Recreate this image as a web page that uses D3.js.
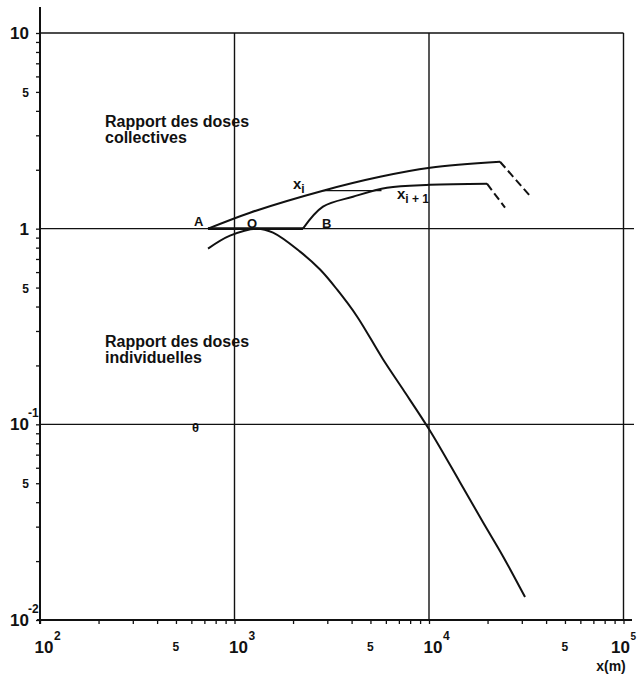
<!DOCTYPE html>
<html>
<head>
<meta charset="utf-8">
<script src="https://cdn.jsdelivr.net/npm/d3@7"></script>
<style>
  body { margin: 0; background: #fff; }
  text { font-family: "Liberation Sans", Arial, sans-serif; fill: #111; }
</style>
</head>
<body>
<div id="chart"></div>
<script>
// values (x in m, y = dose ratio)
const xDecades = [100, 1000, 10000, 100000];
const xDecadeExp = ["2", "3", "4", "5"];
const yDecades = [0.01, 0.1, 1, 10];
const yDecadeLabels = [["10", "-2"], ["10", "-1"], ["1", ""], ["10", ""]];
const fiveLabel = "5";

// rapport des doses collectives, curve x_i
const curveXi = [[731, 1.0], [1202, 1.207], [2851, 1.563], [5598, 1.841], [10120, 2.047], [23180, 2.197]];
const curveXiTail = [[23180, 2.197], [33040, 1.473]];
// curve x_i+1
const curveXi1 = [[2249, 1.0], [2851, 1.295], [4066, 1.456], [6080, 1.619], [10120, 1.676], [19870, 1.697]];
const curveXi1Tail = [[19870, 1.697], [24600, 1.28]];
// link between the two curves, and segment A-B
const linkXi = [[2851, 1.563], [5700, 1.563]];
const segmentAB = [[731, 1.0], [2249, 1.0]];

// rapport des doses individuelles
const curveIndiv = [[731, 0.791], [948, 0.921], [1306, 1.0], [1578, 0.954], [2173, 0.763], [2754, 0.618],
  [3365, 0.489], [4266, 0.356], [5800, 0.215], [7345, 0.151], [10100, 0.093], [14430, 0.0506],
  [18950, 0.0316], [23990, 0.0212], [31170, 0.0131]];

const width = 641, height = 676;

const x = d3.scaleLog().domain([100, 100000]).range([40, 623.5]);
const y = d3.scaleLog().domain([0.01, 10]).range([620, 33]);

const svg = d3.select("#chart").append("svg")
  .attr("width", width)
  .attr("height", height);

const ink = "#111";

// grid lines
svg.selectAll("line.vgrid")
  .data(xDecades.slice(1))
  .enter().append("line")
  .attr("x1", d => x(d)).attr("x2", d => x(d))
  .attr("y1", y(10)).attr("y2", y(0.01))
  .attr("stroke", ink).attr("stroke-width", 1.4);

svg.selectAll("line.hgrid")
  .data(yDecades.slice(1))
  .enter().append("line")
  .attr("x1", x(100)).attr("x2", d => d === 10 ? x(100000) : 634)
  .attr("y1", d => y(d)).attr("y2", d => y(d))
  .attr("stroke", ink).attr("stroke-width", 1.4);

// minor ticks
const minorX = [];
for (let e = 2; e < 5; e++) for (let m = 1; m < 10; m++) minorX.push(m * Math.pow(10, e));
minorX.push(100000);
const minorY = [];
for (let e = -2; e < 1; e++) for (let m = 1; m < 10; m++) minorY.push(m * Math.pow(10, e));
minorY.push(10);

const xAxis = svg.append("g")
  .attr("transform", `translate(0,${y(0.01)})`)
  .call(d3.axisBottom(x).tickValues(minorX).tickFormat("").tickSize(4).tickSizeOuter(0));
xAxis.select(".domain").attr("d", `M37,0H632`).attr("stroke", ink).attr("stroke-width", 2);
xAxis.selectAll(".tick line").attr("stroke", ink).attr("stroke-width", 1.3);

const yAxis = svg.append("g")
  .attr("transform", `translate(${x(100)},0)`)
  .call(d3.axisLeft(y).tickValues(minorY).tickFormat("").tickSize(4).tickSizeOuter(0));
yAxis.select(".domain").attr("d", `M0,7V624`).attr("stroke", ink).attr("stroke-width", 2);
yAxis.selectAll(".tick line").attr("stroke", ink).attr("stroke-width", 1.3);

// y tick labels
yDecades.forEach((d, i) => {
  const [base, exp] = yDecadeLabels[i];
  svg.append("text")
    .attr("x", 29).attr("y", y(d) + 6)
    .attr("text-anchor", "end")
    .attr("font-size", 17).attr("font-weight", "bold")
    .text(base);
  if (exp) {
    svg.append("text")
      .attr("x", 28).attr("y", y(d) - 7)
      .attr("font-size", 12).attr("font-weight", "bold")
      .text(exp);
  }
});
[0.05, 0.5, 5].forEach(d => {
  svg.append("text")
    .attr("x", 29).attr("y", y(d) + 5)
    .attr("text-anchor", "end")
    .attr("font-size", 12).attr("font-weight", "bold")
    .text(fiveLabel);
});

// x tick labels (the last one sits against the page edge)
xDecades.forEach((d, i) => {
  const last = i === xDecades.length - 1;
  svg.append("text")
    .attr("x", x(d) + (last ? -3 : 4)).attr("y", 653)
    .attr("text-anchor", "middle")
    .attr("font-size", 17).attr("font-weight", "bold")
    .text("10");
  svg.append("text")
    .attr("x", x(d) + (last ? 7 : 14)).attr("y", 640)
    .attr("font-size", last ? 10 : 12).attr("font-weight", "bold")
    .text(xDecadeExp[i]);
});
[500, 5000, 50000].forEach(d => {
  svg.append("text")
    .attr("x", x(d)).attr("y", 651)
    .attr("text-anchor", "middle")
    .attr("font-size", 12).attr("font-weight", "bold")
    .text(fiveLabel);
});
svg.append("text")
  .attr("x", 611).attr("y", 671)
  .attr("text-anchor", "middle")
  .attr("font-size", 14).attr("font-weight", "bold")
  .text("x(m)");

// curves
const smooth = d3.line().x(d => x(d[0])).y(d => y(d[1])).curve(d3.curveCatmullRom.alpha(0.5));
const straight = d3.line().x(d => x(d[0])).y(d => y(d[1]));

svg.append("path").attr("d", smooth(curveXi))
  .attr("fill", "none").attr("stroke", ink).attr("stroke-width", 2);
svg.append("path").attr("d", straight(curveXiTail))
  .attr("fill", "none").attr("stroke", ink).attr("stroke-width", 2).attr("stroke-dasharray", "8,4");
svg.append("path").attr("d", smooth(curveXi1))
  .attr("fill", "none").attr("stroke", ink).attr("stroke-width", 2);
svg.append("path").attr("d", straight(curveXi1Tail))
  .attr("fill", "none").attr("stroke", ink).attr("stroke-width", 2).attr("stroke-dasharray", "8,4");
svg.append("path").attr("d", straight(linkXi))
  .attr("fill", "none").attr("stroke", ink).attr("stroke-width", 1.3);
svg.append("path").attr("d", straight(segmentAB))
  .attr("fill", "none").attr("stroke", ink).attr("stroke-width", 2.6);
svg.append("path").attr("d", smooth(curveIndiv))
  .attr("fill", "none").attr("stroke", ink).attr("stroke-width", 2);

// annotations
function label(tx, ty, str, size) {
  return svg.append("text").attr("x", tx).attr("y", ty)
    .attr("font-size", size).attr("font-weight", "bold").text(str);
}
label(105, 127, "Rapport des doses", 16);
label(105, 143, "collectives", 16);
label(105, 347, "Rapport des doses", 16);
label(105, 363, "individuelles", 16);
label(194, 226, "A", 13);
label(247, 228, "O", 13);
label(322, 228, "B", 13);

const xi = label(293, 189, "x", 15);
xi.append("tspan").attr("dy", 4).attr("font-size", 12).text("i");
const xi1 = label(397, 199, "x", 15);
xi1.append("tspan").attr("dy", 4).attr("font-size", 12).text("i + 1");

label(192, 432, "θ", 13);
</script>
</body>
</html>
